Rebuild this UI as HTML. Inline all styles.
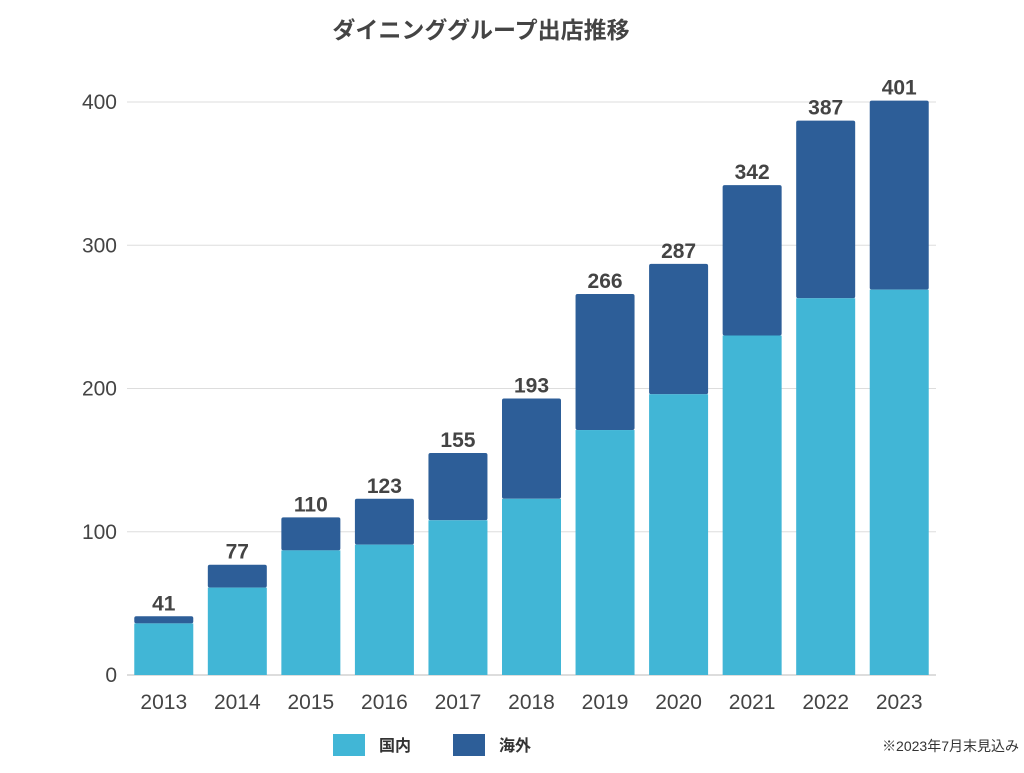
<!DOCTYPE html>
<html><head><meta charset="utf-8"><style>
body{margin:0;background:#fff;width:1024px;height:768px;overflow:hidden;font-family:"Liberation Sans","Noto Sans CJK JP",sans-serif}
</style></head><body>
<svg id="chart" width="1024" height="768" xmlns="http://www.w3.org/2000/svg">
<text x="481" y="38" text-anchor="middle" font-size="23" font-weight="bold" fill="#444" font-family="Liberation Sans, Noto Sans CJK JP, sans-serif">ダイニンググループ出店推移</text>
<g id="grid"></g><g id="bars"></g><g id="labels"></g>
<g>
<rect x="333" y="734" width="32" height="22" fill="#41b6d6"/>
<text x="379" y="751" font-size="16" fill="#333" font-weight="bold" font-family="Noto Sans CJK JP, sans-serif">国内</text>
<rect x="453" y="734" width="32" height="22" fill="#2d5e98"/>
<text x="499" y="751" font-size="16" fill="#333" font-weight="bold" font-family="Noto Sans CJK JP, sans-serif">海外</text>
</g>
<text x="1019" y="751" text-anchor="end" font-size="14" fill="#333" font-family="Liberation Sans, Noto Sans CJK JP, sans-serif">※2023年7月末見込み</text>
</svg>
<script>
const years=["2013","2014","2015","2016","2017","2018","2019","2020","2021","2022","2023"];
const totals=[41,77,110,123,155,193,266,287,342,387,401];
const domestic=[36,61,87,91,108,123,171,196,237,263,269];
const yTicks=[0,100,200,300,400];
const NS="http://www.w3.org/2000/svg";
const x0=127,x1=936,yBase=675,yTop=102,yMax=400;
const band=(x1-x0)/years.length,bw=59;
const y=v=>yBase-(v/yMax)*(yBase-yTop);
const xc=i=>x0+band*(i+0.5);
function mk(t,a,p){const e=document.createElementNS(NS,t);for(const k in a)e.setAttribute(k,a[k]);p.appendChild(e);return e;}
const grid=document.getElementById('grid'),bars=document.getElementById('bars'),labels=document.getElementById('labels');
yTicks.forEach(t=>{
 const l=mk('line',{x1:x0,x2:x1,y1:y(t),y2:y(t),stroke:t===0?'#bbb':'#ddd','stroke-width':1},grid);
 
 
 const tx=mk('text',{x:117,y:y(t)+7,'text-anchor':'end','font-size':21,fill:'#444'},grid);
 tx.textContent=t;
 
 
});
years.forEach((yr,i)=>{
 const cx=xc(i);
 const o=mk('rect',{x:cx-bw/2,y:y(totals[i]),width:bw,height:y(domestic[i])-y(totals[i]),fill:'#2d5e98',rx:2},bars);
 
 
 const d=mk('rect',{x:cx-bw/2,y:y(domestic[i]),width:bw,height:yBase-y(domestic[i]),fill:'#41b6d6'},bars);
 
 
 const v=mk('text',{x:cx,y:y(totals[i])-6,'text-anchor':'middle','font-size':21,'font-weight':'bold',fill:'#444'},labels);
 v.textContent=totals[i];
 
 
 const xl=mk('text',{x:cx,y:709,'text-anchor':'middle','font-size':21,fill:'#444'},labels);
 xl.textContent=yr;
 
 
});
</script>
</body></html>
